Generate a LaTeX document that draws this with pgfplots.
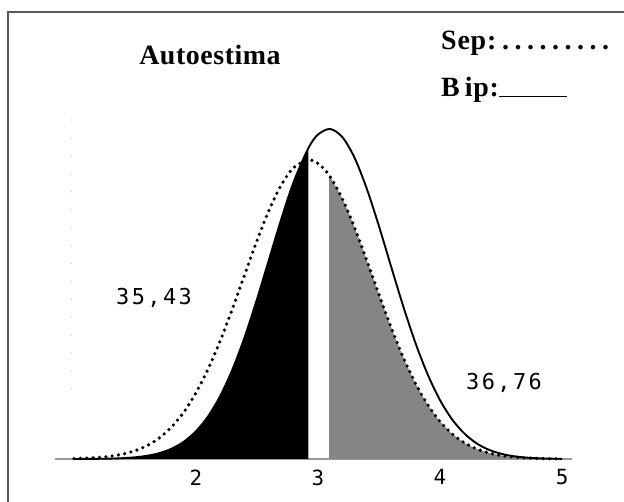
\documentclass[border=0pt]{standalone}
\usepackage{fontspec}
\setmainfont{Liberation Serif}
\newfontfamily\monof[LetterSpace=11]{DejaVu Sans Mono}
\newfontfamily\titlef[LetterSpace=2]{Liberation Serif}
\newfontfamily\sepf[LetterSpace=3]{Liberation Serif}
\usepackage{pgfplots}
\usepackage{pgfplotstable}
\pgfplotsset{compat=1.18}

% solid curve (Bip)
\pgfplotstableread{
x     s
1.0   0.04
1.1   0.09
1.2   0.19
1.3   0.42
1.4   0.86
1.5   1.71
1.6   3.24
1.7   5.90
1.8   10.32
1.9   17.29
2.0   27.80
2.1   42.87
2.2   63.43
2.3   89.97
2.4   122.4
2.5   159.9
2.6   200.2
2.7   240.4
2.8   277.0
2.92  310.7
3.0   324.5
3.1   330.0
3.2   321.8
3.3   301.1
3.4   270.1
3.5   232.6
3.6   192.0
3.7   152.1
3.8   115.5
3.9   84.2
4.0   58.8
4.1   39.4
4.2   25.4
4.3   15.6
4.4   9.26
4.5   5.25
4.6   2.86
4.7   1.49
4.8   0.75
4.9   0.36
5.0   0.17
}\solid

% dotted curve (Sep)
\pgfplotstableread{
x     d
1.0   0.42
1.1   0.82
1.2   1.54
1.3   2.80
1.4   4.89
1.5   8.26
1.6   13.45
1.7   21.1
1.8   32.1
1.9   46.9
2.0   66.3
2.1   90.3
2.2   118.8
2.3   150.8
2.4   184.8
2.5   218.4
2.6   249.2
2.7   274.3
2.8   291.4
2.92  299.0
3.0   295.6
3.09  284.0
3.2   260.0
3.3   231.2
3.4   198.4
3.5   164.3
3.6   131.3
3.7   101.2
3.8   75.3
3.9   54.1
4.0   37.5
4.1   25.1
4.2   16.2
4.3   10.1
4.4   6.06
4.5   3.51
4.6   1.97
4.7   1.06
4.8   0.55
4.9   0.28
5.0   0.13
}\dotted

\begin{document}
\begin{tikzpicture}
\useasboundingbox (0,0) rectangle (624bp,502bp);
\fill[white] (0,0) rectangle (624bp,502bp);
\begin{axis}[
  at={(54.5bp,43bp)}, anchor=south west,
  scale only axis, width=517.3bp, height=450bp,
  xmin=0.84, xmax=5.08, ymin=0, ymax=450,
  axis x line*=bottom, axis y line=none,
  axis line style={-, black!40, line width=1.2pt},
  xtick={2,3,4,5}, xticklabels={2,3,4,5},
  ytick=\empty,
  major tick length=0pt,
  xticklabel style={font=\monof\fontsize{21}{21}\selectfont, text=black, yshift=-7bp},
  clip=false,
]
\addplot[fill=black, draw=none, smooth, restrict x to domain=0.9:2.925] table[x=x,y=s]{\solid} \closedcycle;
\addplot[fill=black!48, draw=none, smooth, restrict x to domain=3.085:5.1] table[x=x,y=d]{\dotted} \closedcycle;
\addplot[black, line width=1.9pt, smooth] table[x=x,y=s]{\solid};
\addplot[black, line width=3.6pt, dash pattern=on 0pt off 6.4pt, line cap=round, smooth] table[x=x,y=d]{\dotted};
\draw[black!25, line width=1.2pt, dash pattern=on 0pt off 18pt, line cap=round] (axis cs:0.98,70) -- (axis cs:0.98,340);
\end{axis}
\draw[black!65, line width=1.5bp] (8bp,0) -- (8bp,490bp) -- (624bp,490bp);
\node[font=\titlef\bfseries\fontsize{28}{28}\selectfont] at (210bp,447bp) {Autoestima};
\node[anchor=base west, font=\sepf\bfseries\fontsize{28}{28}\selectfont, inner sep=0pt] at (441bp,452bp) {Sep:\hspace{3bp}\makebox[12.5bp]{.}\makebox[12.5bp]{.}\makebox[12.5bp]{.}\makebox[12.5bp]{.}\makebox[12.5bp]{.}\makebox[12.5bp]{.}\makebox[12.5bp]{.}\makebox[12.5bp]{.}\makebox[12.5bp]{.}};
\node[anchor=base west, font=\sepf\bfseries\fontsize{28}{28}\selectfont, inner sep=0pt] at (441bp,405bp) {B\hspace{5bp}ip:\rule{68bp}{1.2bp}};
\node[font=\monof\fontsize{22}{22}\selectfont, text=black] at (154bp,204bp) {35,43};
\node[font=\monof\fontsize{22}{22}\selectfont, text=black] at (504bp,119bp) {36,76};
\end{tikzpicture}
\end{document}
